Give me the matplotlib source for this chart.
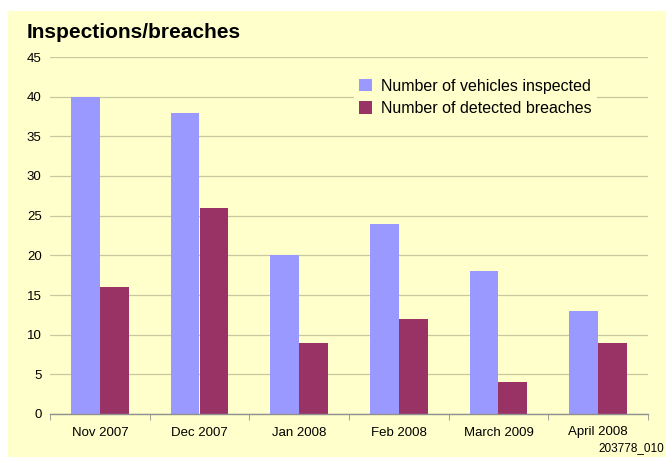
import matplotlib
matplotlib.use("Agg")
import matplotlib.pyplot as plt
import numpy as np
from matplotlib.patches import Rectangle

categories = ["Nov 2007", "Dec 2007", "Jan 2008", "Feb 2008", "March 2009", "April 2008"]
inspected = [40, 38, 20, 24, 18, 13]
breaches = [16, 26, 9, 12, 4, 9]
series_names = ["Number of vehicles inspected", "Number of detected breaches"]
yticks = [0, 5, 10, 15, 20, 25, 30, 35, 40, 45]

plt.rcParams['font.family'] = ['Liberation Sans', 'DejaVu Sans']

W, H = 666, 457
fig = plt.figure(figsize=(W/100, H/100), dpi=100)
fig.patch.set_facecolor('white')
bg = '#FFFFCC'
fig.patches.append(Rectangle((8/W, 0), 1 - 8/W, 1 - 11/H, transform=fig.transFigure,
                             facecolor=bg, edgecolor='none', zorder=-10))

ax = fig.add_axes([50/W, 1 - 414/H, 598/W, (414 - 57)/H])
ax.set_facecolor('none')
ax.set_zorder(1)

x = np.arange(len(categories))
bw = 0.29
ax.bar(x - bw/2, inspected, bw, color='#9999FF', label=series_names[0], zorder=3)
ax.bar(x + bw/2, breaches, bw, color='#993366', label=series_names[1], zorder=3)

ax.set_xlim(-0.5, len(categories) - 0.5)
ax.set_ylim(0, 45)
ax.set_yticks(yticks)
ax.set_yticklabels([str(v) for v in yticks], fontsize=9.5)
ax.yaxis.grid(True, color='#C8C8A0', linewidth=0.9, zorder=0)
ax.tick_params(axis='y', length=0, pad=6)

ax.set_xticks(x)
ax.set_xticklabels(categories, fontsize=9.5)
ax.tick_params(axis='x', length=0, pad=9)
ax.set_xticks(np.arange(-0.5, len(categories)), minor=True)
ax.tick_params(axis='x', which='minor', length=4, color='#909090', direction='out')

for s in ['top', 'right', 'left']:
    ax.spines[s].set_visible(False)
ax.spines['bottom'].set_color('#909090')
ax.spines['bottom'].set_linewidth(1.0)
ax.spines['bottom'].set_zorder(4)

leg = ax.legend(loc='upper left', bbox_to_anchor=(296/598, 1 - 9/357), frameon=True,
                facecolor=bg, edgecolor='none', framealpha=1, fontsize=11.5,
                handlelength=0.8, handleheight=0.8, handletextpad=0.6, labelspacing=0.45,
                borderpad=0.3)

fig.text(27/W, 1 - 33/H, "Inspections/breaches", fontsize=15, fontweight='bold',
         va='center', ha='left')
fig.text(664/W, 1 - 448/H, "203778_010", fontsize=8.5, ha='right', va='center')

fig.savefig("out.png", dpi=100)
